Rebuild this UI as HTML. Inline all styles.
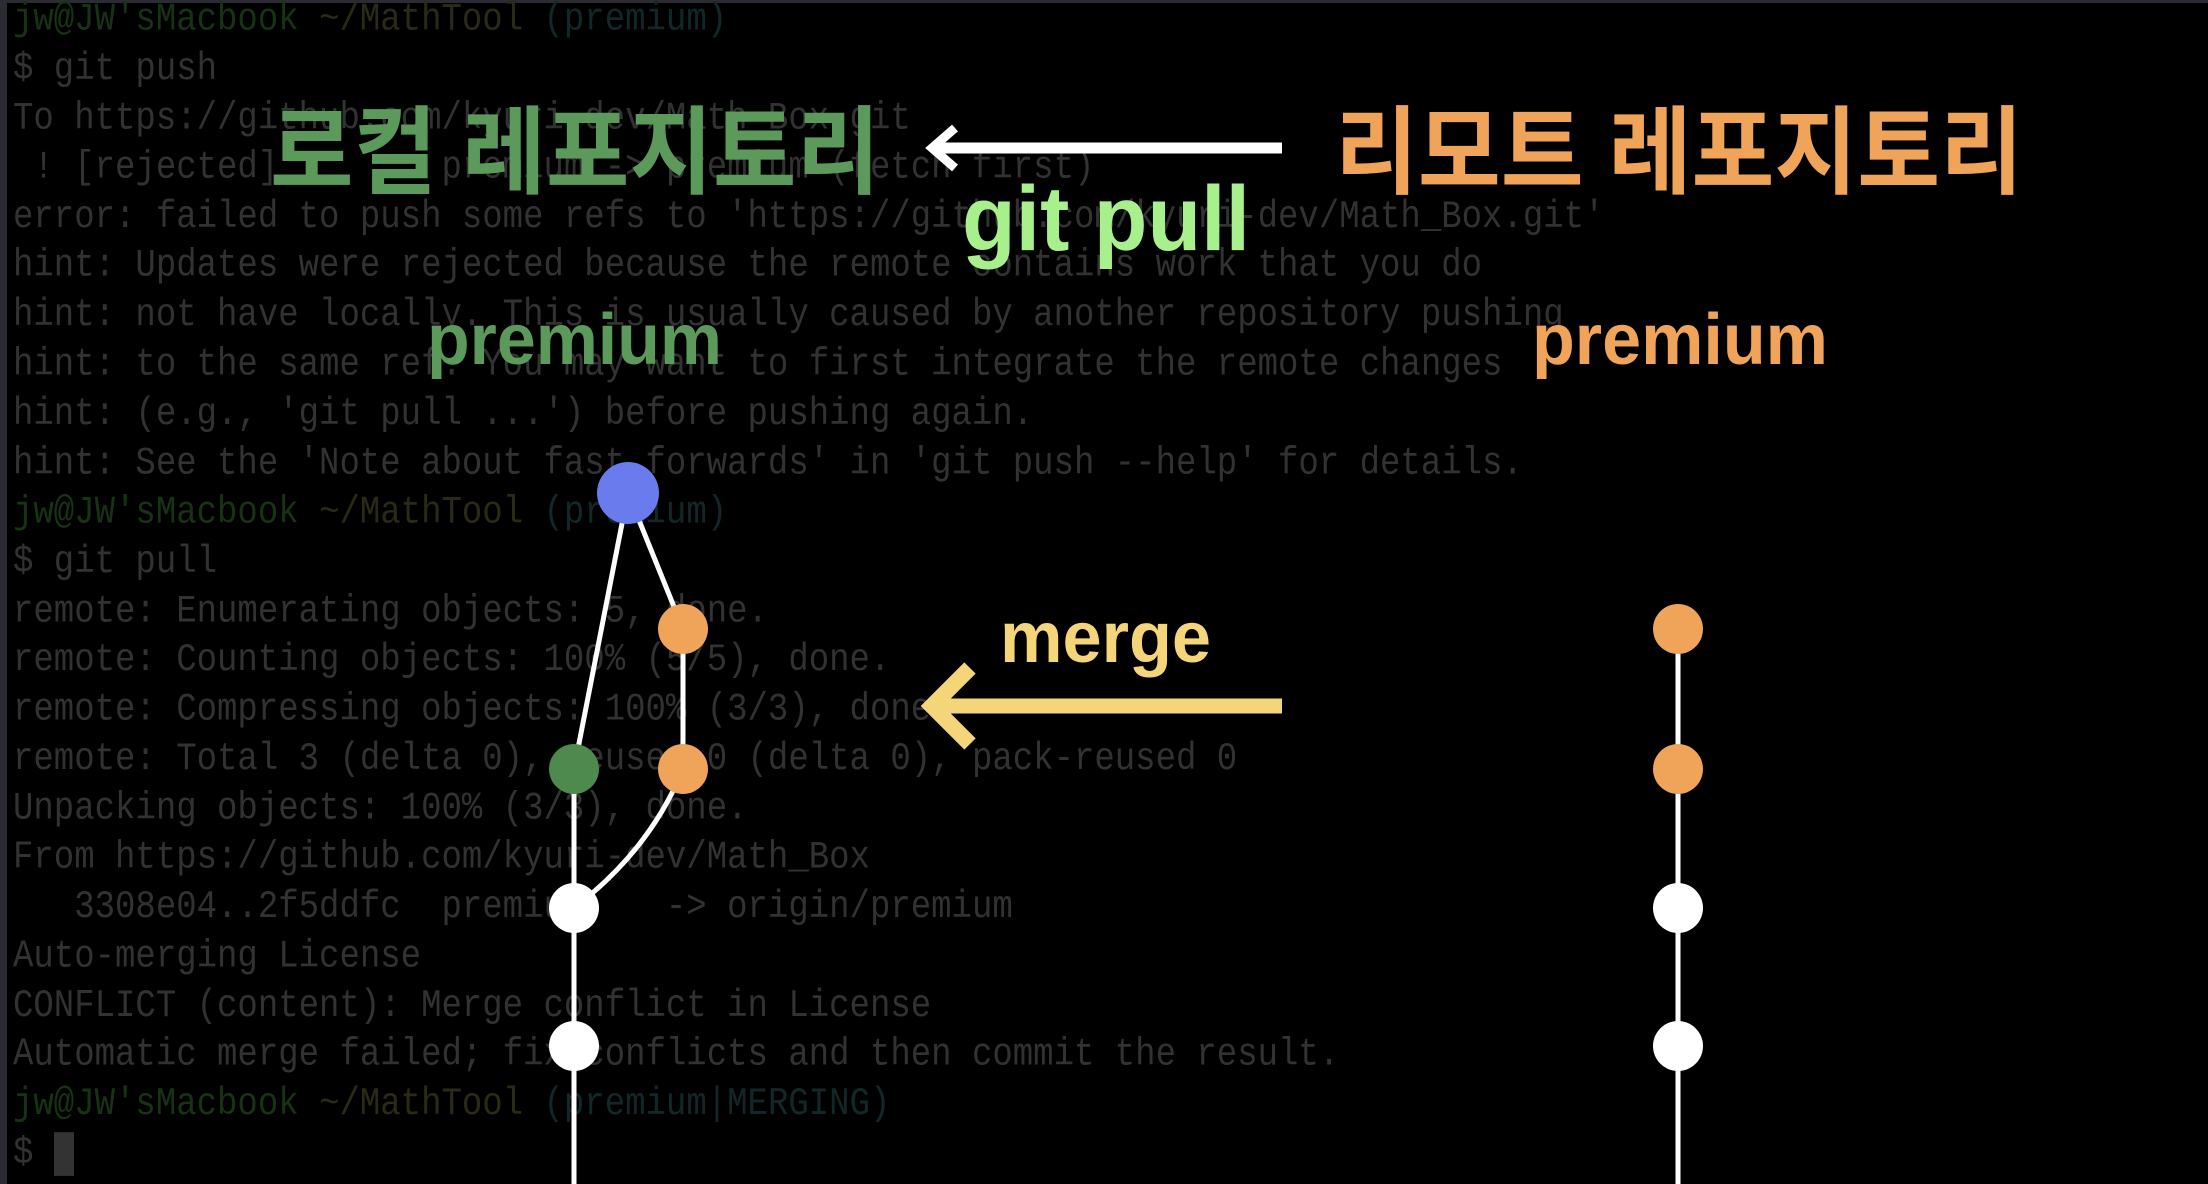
<!DOCTYPE html>
<html><head><meta charset="utf-8"><style>
html,body{margin:0;padding:0;background:#000;width:2208px;height:1184px;overflow:hidden;position:relative}
.term{position:absolute;left:13px;top:-4px;font-family:"Liberation Mono",monospace;font-size:34px;line-height:42.87px;color:#323232;white-space:pre;transform:scaleY(1.15);transform-origin:0 0}
.g{color:#183214}.y{color:#2a2a16}.t{color:#122828}
</style></head><body>
<div style="position:absolute;left:0;top:0;width:7px;height:1184px;background:#2a2b33"></div>
<div style="position:absolute;left:0;top:0;width:2208px;height:3px;background:#2a2b33"></div>
<div class="term"><span class="g">jw@JW'sMacbook</span> <span class="y">~/MathTool</span> <span class="t">(premium)</span>
$ git push
To https://github.com/kyuri-dev/Math_Box.git
 ! [rejected]        premium -> premium (fetch first)
error: failed to push some refs to 'https://github.com/kyuri-dev/Math_Box.git'
hint: Updates were rejected because the remote contains work that you do
hint: not have locally. This is usually caused by another repository pushing
hint: to the same ref. You may want to first integrate the remote changes
hint: (e.g., 'git pull ...') before pushing again.
hint: See the 'Note about fast forwards' in 'git push --help' for details.
<span class="g">jw@JW'sMacbook</span> <span class="y">~/MathTool</span> <span class="t">(premium)</span>
$ git pull
remote: Enumerating objects: 5, done.
remote: Counting objects: 100% (5/5), done.
remote: Compressing objects: 100% (3/3), done.
remote: Total 3 (delta 0), reused 0 (delta 0), pack-reused 0
Unpacking objects: 100% (3/3), done.
From https://github.com/kyuri-dev/Math_Box
   3308e04..2f5ddfc  premium    -> origin/premium
Auto-merging License
CONFLICT (content): Merge conflict in License
Automatic merge failed; fix conflicts and then commit the result.
<span class="g">jw@JW'sMacbook</span> <span class="y">~/MathTool</span> <span class="t">(premium|MERGING)</span>
$ <span style="background:#333">&#160;</span></div>
<svg style="position:absolute;left:0;top:0" width="2208" height="1184" xmlns="http://www.w3.org/2000/svg">
<g font-family="Liberation Sans,Noto Sans CJK KR,sans-serif" font-weight="bold">
<text x="270" y="186" font-size="96" fill="#5c9a5c" textLength="610" lengthAdjust="spacingAndGlyphs">로컬 레포지토리</text>
<text x="1335" y="186" font-size="96" fill="#f0a45a" textLength="688" lengthAdjust="spacingAndGlyphs">리모트 레포지토리</text>
<text x="962" y="250" font-size="92" fill="#a8f08c" textLength="288" lengthAdjust="spacingAndGlyphs">git pull</text>
<text x="427" y="364" font-size="72" fill="#5c9a5c" textLength="295" lengthAdjust="spacingAndGlyphs">premium</text>
<text x="1532" y="364" font-size="72" fill="#f0a45a" textLength="296" lengthAdjust="spacingAndGlyphs">premium</text>
<text x="1000" y="662" font-size="72" fill="#f4d57a" textLength="211" lengthAdjust="spacingAndGlyphs">merge</text>
</g>
<line x1="1282" y1="148" x2="935" y2="148" stroke="#fff" stroke-width="11"/>
<polyline points="955,128 932,148 955,168" fill="none" stroke="#fff" stroke-width="9"/>
<line x1="1282" y1="706" x2="935" y2="706" stroke="#f4d57a" stroke-width="15"/>
<polyline points="970,668 932,706 970,744" fill="none" stroke="#f4d57a" stroke-width="16"/>
<g stroke="#fff" stroke-width="5" fill="none">
<line x1="628" y1="493" x2="574" y2="769"/>
<line x1="628" y1="493" x2="683" y2="629"/>
<line x1="683" y1="629" x2="683" y2="769"/>
<path d="M683 769 Q650 850 574 908"/>
<line x1="574" y1="769" x2="574" y2="1184"/>
<line x1="1678" y1="629" x2="1678" y2="1184"/>
</g>
<circle cx="628" cy="493" r="31" fill="#6a7bee"/>
<circle cx="683" cy="629" r="25" fill="#f0a45a"/>
<circle cx="683" cy="769" r="25" fill="#f0a45a"/>
<circle cx="574" cy="769" r="25" fill="#4e8a4e"/>
<circle cx="574" cy="908" r="25" fill="#fff"/>
<circle cx="574" cy="1046" r="25" fill="#fff"/>
<circle cx="1678" cy="629" r="25" fill="#f0a45a"/>
<circle cx="1678" cy="769" r="25" fill="#f0a45a"/>
<circle cx="1678" cy="908" r="25" fill="#fff"/>
<circle cx="1678" cy="1046" r="25" fill="#fff"/>
</svg>
</body></html>
